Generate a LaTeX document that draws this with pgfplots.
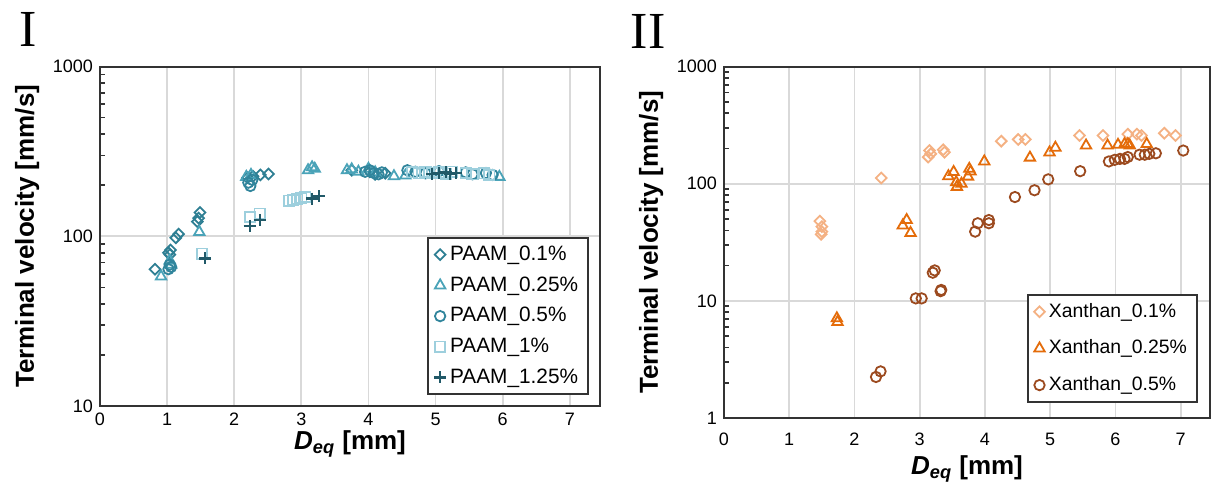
\documentclass[border=0pt]{standalone}
\usepackage{fontspec}
\setmainfont{Liberation Sans}
\newfontfamily\romanI{Liberation Serif}
\usepackage{pgfplots}
\pgfplotsset{compat=1.18}
\pgfkeys{/pgf/number format/assume math mode=true}

\definecolor{paamA}{HTML}{2E7F93}
\definecolor{paamB}{HTML}{4AA3B8}
\definecolor{paamC}{HTML}{31859C}
\definecolor{paamD}{HTML}{9DCFDD}
\definecolor{paamE}{HTML}{215968}
\definecolor{xanA}{HTML}{F4B183}
\definecolor{xanB}{HTML}{E46C0A}
\definecolor{xanC}{HTML}{9C4A1F}

\begin{document}
\begin{tikzpicture}
\path[use as bounding box] (0,0) rectangle (606pt,241.5pt);

\node at (14pt,227pt) {\romanI\fontsize{26}{26}\selectfont I};
\node at (324pt,226pt) {\romanI\fontsize{26}{26}\selectfont II};

% ---- panel I : PAAM
\begin{axis}[
    at={(50pt,38.5pt)}, anchor=south west,
    scale only axis,
    width=250pt, height=169.7pt,
    ymode=log,
    xmin=0, xmax=7.45, ymin=10, ymax=1000,
    xtick={0,...,7},
    ytick={10,100,1000}, yticklabels={10,100,1000},
    minor ytick={20,30,40,50,60,70,80,90,200,300,400,500,600,700,800,900},
    ytick pos=left, xtick pos=bottom,
    grid=major,
    major grid style={black!15, line width=0.9pt},
    axis line style={black!80, line width=1pt},
    tick align=inside,
    major tick length=0pt,
    minor tick length=2.5pt,
    minor tick style={black!80, line width=0.8pt},
    tick label style={font=\fontsize{9}{10}\selectfont},
    xlabel={\textbf{\textit{D}\textsubscript{\textit{eq}} [mm]}},
    ylabel={\textbf{Terminal velocity [mm/s]}},
    label style={font=\fontsize{13}{15}\selectfont},
    xlabel style={at={(axis description cs:0.5,0)}, anchor=north, yshift=-9pt},
    legend cell align=left,
    legend style={at={(0.978,0.032)}, anchor=south east, row sep=2.6pt,
      draw=black!80, line width=0.9pt, font=\fontsize{10.4}{12}\selectfont},
  ]
  \addplot[only marks, mark=square, mark options={rotate=45}, color=paamA, mark size=1.9pt, line width=0.9pt] coordinates {
    (0.82,64) (1.02,80) (1.05,83) (1.04,78) (1.13,98) (1.17,103) (1.45,122)
    (1.47,128) (1.49,138) (2.20,222) (2.28,226) (2.39,230) (2.51,233)
    (3.75,245) (4.02,240) (4.10,232) (4.25,235)
  };
  \addlegendentry{PAAM\_0.1\%}
  \addplot[only marks, mark=triangle, color=paamB, mark size=3pt, line width=0.9pt] coordinates {
    (0.91,58) (1.04,72) (1.06,68) (1.48,106) (2.18,224) (2.25,230)
    (3.10,245) (3.16,255) (3.20,250) (3.68,245) (3.75,248) (3.85,240)
    (4.00,250) (4.10,238) (4.38,226) (4.55,228) (5.95,224)
  };
  \addlegendentry{PAAM\_0.25\%}
  \addplot[only marks, mark=o, color=paamC, mark size=2.6pt, line width=0.9pt] coordinates {
    (1.02,64) (1.04,68) (1.06,66) (2.21,207) (2.24,198) (2.27,215)
    (3.95,240) (4.02,245) (4.08,236) (4.15,232) (4.20,238) (4.58,245)
    (4.70,240) (4.85,235) (5.05,242) (5.45,238) (5.55,232) (5.75,236) (5.85,230)
  };
  \addlegendentry{PAAM\_0.5\%}
  \addplot[only marks, mark=square, color=paamD, mark size=2.6pt, line width=0.9pt] coordinates {
    (1.52,79) (2.24,130) (2.38,136) (2.82,162) (2.88,164) (2.94,166)
    (3.00,168) (3.06,170) (4.65,238) (4.75,235) (4.85,240) (4.95,236)
    (5.05,238) (5.15,234) (5.25,240) (5.45,236) (5.55,232) (5.72,235) (5.80,230)
  };
  \addlegendentry{PAAM\_1\%}
  \addplot[only marks, mark=+, color=paamE, mark size=3pt, line width=1.1pt] coordinates {
    (1.57,74) (2.23,115) (2.38,125) (3.16,167) (3.26,172)
    (4.95,232) (5.05,235) (5.15,238) (5.22,234) (5.30,236)
  };
  \addlegendentry{PAAM\_1.25\%}
\end{axis}

% ---- panel II : Xanthan
\begin{axis}[
    at={(362pt,32.5pt)}, anchor=south west,
    scale only axis,
    width=243pt, height=175.7pt,
    ymode=log,
    xmin=0, xmax=7.45, ymin=1, ymax=1000,
    xtick={0,...,7},
    ytick={1,10,100,1000}, yticklabels={1,10,100,1000},
    minor ytick={2,3,4,5,6,7,8,9,20,30,40,50,60,70,80,90,200,300,400,500,600,700,800,900},
    ytick pos=left, xtick pos=bottom,
    grid=major,
    major grid style={black!15, line width=0.9pt},
    axis line style={black!80, line width=1pt},
    tick align=inside,
    major tick length=0pt,
    minor tick length=2.5pt,
    minor tick style={black!80, line width=0.8pt},
    tick label style={font=\fontsize{9}{10}\selectfont},
    xticklabel style={yshift=-4pt},
    xlabel={\textbf{\textit{D}\textsubscript{\textit{eq}} [mm]}},
    ylabel={\textbf{Terminal velocity [mm/s]}},
    label style={font=\fontsize{13}{15}\selectfont},
    xlabel style={at={(axis description cs:0.5,0)}, anchor=north, yshift=-15.5pt},
    legend cell align=left,
    legend style={at={(0.975,0.044)}, anchor=south east, row sep=5.8pt,
      draw=black!80, line width=0.9pt, font=\fontsize{9.7}{11}\selectfont},
  ]
  \addplot[only marks, mark=square, mark options={rotate=45}, color=xanA, mark size=1.9pt, line width=0.9pt] coordinates {
    (1.47,48) (1.50,43) (1.50,39) (1.49,37) (2.41,112) (3.13,169) (3.15,192)
    (3.17,180) (3.36,195) (3.38,186) (4.25,231) (4.51,239) (4.62,239)
    (5.45,258) (5.81,258) (6.19,265) (6.33,265) (6.40,258) (6.75,270) (6.92,258)
  };
  \addlegendentry{Xanthan\_0.1\%}
  \addplot[only marks, mark=triangle, color=xanB, mark size=3pt, line width=0.9pt] coordinates {
    (1.73,7.1) (1.74,6.6) (2.80,49) (2.74,44) (2.86,38) (3.44,116) (3.52,126)
    (3.56,103) (3.57,94) (3.64,100) (3.74,115) (3.76,134) (3.78,127) (3.99,155)
    (4.69,167) (4.99,185) (5.08,203) (5.55,212) (5.88,212) (6.04,215)
    (6.14,218) (6.19,218) (6.22,212) (6.48,218)
  };
  \addlegendentry{Xanthan\_0.25\%}
  \addplot[only marks, mark=o, color=xanC, mark size=2.6pt, line width=0.9pt] coordinates {
    (2.33,2.24) (2.40,2.5) (2.94,10.5) (3.03,10.5) (3.20,17.4) (3.23,18.2)
    (3.32,12.1) (3.33,12.4) (3.85,39) (3.89,46) (4.06,49) (4.06,46) (4.46,77)
    (4.76,88) (4.97,109) (5.46,128) (5.90,155) (5.99,160) (6.07,163) (6.14,163)
    (6.19,169) (6.37,177) (6.45,177) (6.52,180) (6.62,182) (7.04,192)
  };
  \addlegendentry{Xanthan\_0.5\%}
\end{axis}
\end{tikzpicture}
\end{document}
